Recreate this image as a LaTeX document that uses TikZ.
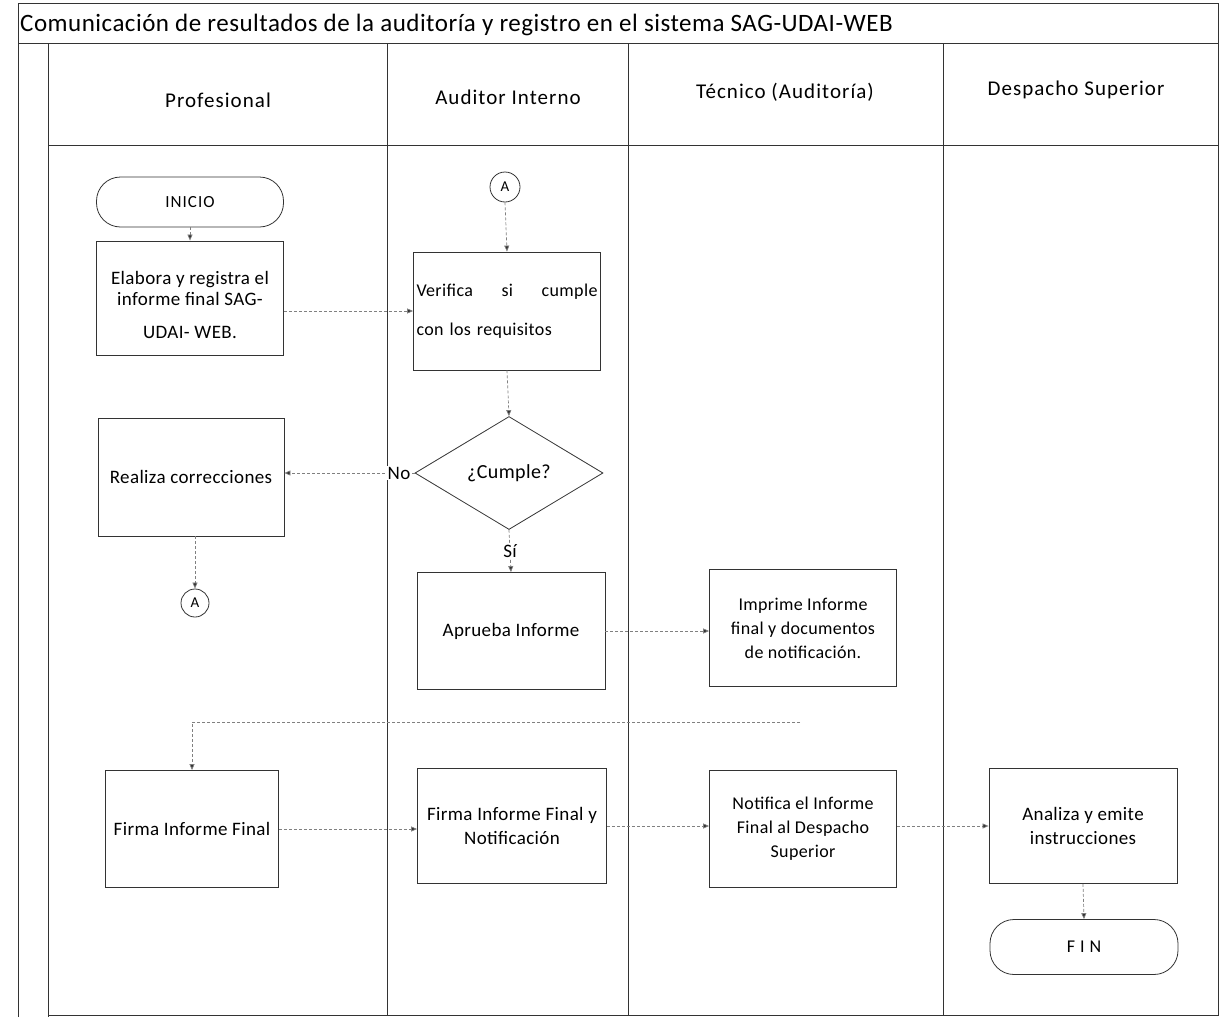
\documentclass[tikz,border=0pt]{standalone}
\usepackage{fontspec}
\setmainfont{Carlito}
\newfontfamily\spfont{Carlito}[LetterSpace=2]
\newfontfamily\hdfont{Carlito}[LetterSpace=5]
\newfontfamily\wdfont{Carlito}[LetterSpace=6]
\newfontfamily\xwfont{Carlito}[LetterSpace=28]
\usetikzlibrary{shapes.geometric,arrows.meta}
\begin{document}
\begin{tikzpicture}[x=1pt,y=-1pt,
 frame/.style={draw=black!80,line width=0.9pt},
 proc/.style={draw=black!80,line width=0.8pt,minimum width=187pt,minimum height=116pt,font=\spfont\fontsize{19}{24}\selectfont,align=center,inner sep=2pt},
 term/.style={draw=black!80,line width=0.8pt,rounded corners=24pt,minimum width=187pt,minimum height=50pt,font=\wdfont\fontsize{17}{18}\selectfont},
 conn/.style={draw=black!80,circle,line width=0.8pt,minimum size=30pt,inner sep=0pt,font=\fontsize{15}{16}\selectfont},
 flow/.style={draw=black!50,line width=0.7pt,dash pattern=on 3pt off 2pt,-{Triangle[length=6pt,width=5pt,fill=black!80]}},
 lanetxt/.style={font=\hdfont\fontsize{21}{24}\selectfont},
 lbl/.style={font=\spfont\fontsize{19}{20}\selectfont,fill=white,inner sep=1pt}
]
\useasboundingbox (0,0) rectangle (1220,1017);
% frame
\draw[frame] (18,1017) -- (18,3) -- (1218,3) -- (1218,1015) -- (48,1015);
\draw[frame] (18,43) -- (1218,43);
\draw[frame] (48,43) -- (48,1017);
\draw[frame] (48,145) -- (1218,145);
\draw[frame] (387,43) -- (387,1015);
\draw[frame] (628,43) -- (628,1015);
\draw[frame] (943,43) -- (943,1015);
% title and lanes
\node[anchor=west,font=\spfont\fontsize{25}{28}\selectfont,inner sep=0pt] (title) at (20,25) {Comunicación de resultados de la auditoría y registro en el sistema SAG-UDAI-WEB};
\node[lanetxt] (l1) at (218,100) {Profesional};
\node[lanetxt] (l2) at (508,97) {Auditor Interno};
\node[lanetxt] (l3) at (785,92) {Técnico (Auditoría)};
\node[lanetxt] (l4) at (1076,90) {Despacho Superior};
% nodes
\node[term] (inicio) at (190,202) {INICIO};
\node[proc,minimum height=114pt] (elab) at (190,298) {\\[4pt]Elabora y registra el\\[-3pt] informe final SAG-\\[9pt] UDAI- WEB.};
\node[conn] (a1) at (505,187) {A};
\node[proc,minimum height=118pt,text width=181pt,align=left,font=\spfont\fontsize{18}{24}\selectfont] (verif) at (507,311) {Verifica\hfill si\hfill cumple\\[15pt]con los requisitos};
\node[draw=black!80,line width=0.8pt,diamond,minimum width=188pt,minimum height=113pt,inner sep=0pt,font=\spfont\fontsize{20}{22}\selectfont] (dec) at (509,473) {¿Cumple?};
\node[proc,minimum width=186pt,minimum height=118pt] (corr) at (191,477) {Realiza correcciones};
\node[conn,minimum size=28pt] (a2) at (195,603) {A};
\node[proc,minimum width=188pt,minimum height=117pt] (aprueba) at (511,631) {Aprueba Informe};
\node[proc,minimum height=117pt,font=\spfont\fontsize{18}{24}\selectfont] (imprime) at (803,628) {Imprime Informe\\ final y documentos\\ de notificación.};
\node[proc,minimum width=173pt,minimum height=117pt] (firma) at (192,829) {Firma Informe Final};
\node[proc,minimum width=189pt,minimum height=115pt] (firmanot) at (512,826) {Firma Informe Final y\\ Notificación};
\node[proc,minimum height=117pt,font=\spfont\fontsize{18}{24}\selectfont] (notif) at (803,829) {Notifica el Informe\\ Final al Despacho\\ Superior};
\node[proc,minimum width=188pt,minimum height=115pt] (analiza) at (1083,826) {Analiza y emite\\ instrucciones};
\node[term,minimum width=188pt,minimum height=55pt,font=\xwfont\fontsize{18}{20}\selectfont] (fin) at (1084,947) {FIN};
% connectors
\draw[flow] (inicio.south) -- (elab.north);
\draw[flow] (elab.east |- verif.west) -- (verif.west);
\draw[flow] (a1.south) -- (verif.north);
\draw[flow] (verif.south) -- (dec.north);
\draw[flow] (dec.west) -- node[lbl,pos=0.12] {No} (dec.west -| corr.east);
\draw[flow] (dec.south) -- node[lbl,pos=0.5] {Sí} (aprueba.north);
\draw[flow] (corr.south -| a2.north) -- (a2.north);
\draw[flow] (aprueba.east) -- (aprueba.east -| imprime.west);
\coordinate (c1) at (800,722);
\draw[flow] (c1) -| (firma.north);
\draw[flow] (firma.east) -- (firma.east -| firmanot.west);
\draw[flow] (firmanot.east) -- (firmanot.east -| notif.west);
\draw[flow] (notif.east |- analiza.west) -- (analiza.west);
\draw[flow] (analiza.south) -- (fin.north);
\end{tikzpicture}
\end{document}
